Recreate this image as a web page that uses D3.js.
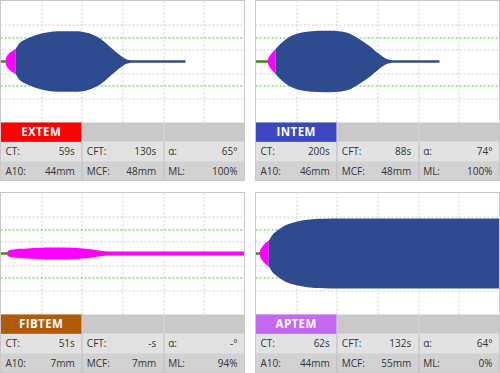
<!DOCTYPE html>
<html lang="en">
<head>
    <meta charset="UTF-8">
    <title>ROTEM Panels</title>
    <script src="https://d3js.org/d3.v7.min.js"></script>
    <style>
        body { margin: 0; background: #fff; }
        svg text { font-family: "Open Sans", sans-serif; }
    </style>
</head>
<body>
    <div id="chart"></div>
    <script>
        // Test names and result table values
        const tests = ["EXTEM", "INTEM", "FIBTEM", "APTEM"];
        const ctValues = ["59s", "200s", "51s", "62s"];
        const cftValues = ["130s", "88s", "-s", "132s"];
        const alphaValues = ["65°", "74°", "-°", "64°"];
        const a10Values = ["44mm", "46mm", "7mm", "44mm"];
        const mcfValues = ["48mm", "48mm", "7mm", "55mm"];
        const mlValues = ["100%", "100%", "94%", "0%"];

        // Curves: [time in min, amplitude in mm]
        const extemCurve = [[1.23, 0], [1.35, 5.7], [1.65, 9.5], [2.04, 12.8], [2.46, 15.1], [3.07, 18], [3.69, 20.8],
            [4.92, 31.6], [7.38, 39.8], [9.84, 45.4], [13.03, 49.2], [16.47, 49.7], [19.67, 49.2], [22.13, 45.4],
            [24.59, 37.2], [27.05, 23.4], [29.51, 9.8], [30.8, 4.2], [31.8, 2.3], [33, 2], [36, 2], [40, 2], [45.49, 2]];
        const intemCurve = [[2.95, 0], [3.1, 3.5], [3.27, 6.6], [4.11, 14.8], [4.92, 20.5], [6.15, 29], [8.19, 39.8],
            [10.65, 46.4], [13.94, 49.7], [17.21, 50.3], [20.48, 49.7], [22.94, 46.4], [25.4, 37.2], [27.86, 26.2],
            [30.32, 12.6], [32, 5], [33.3, 2.4], [34.6, 2], [37.5, 2], [41, 2], [45.24, 2]];
        const fibtemCurve = [[1.6, 0], [1.8, 4.1], [3.27, 6.6], [6.57, 8.2], [9.84, 9.3], [12.29, 9.8], [16.4, 9.8],
            [20.48, 8.2], [23.78, 5.4], [26.24, 3.4], [28.5, 3.2], [32, 3.2], [40, 3.2], [50, 3.2], [60, 3.2]];
        const aptemCurve = [[0.98, 0], [1.23, 6.6], [1.65, 11], [2.46, 17.5], [3.27, 21.3], [4.1, 30], [4.92, 35.4],
            [7.38, 46.4], [9.84, 51.8], [13.94, 56.2], [20.48, 57.4], [31.97, 57.4], [45, 57.4], [60, 57.4]];
        const curves = [extemCurve, intemCurve, fibtemCurve, aptemCurve];
        // end of the green baseline (min) and end of the magenta phase (min)
        const ctTimes = [1.23, 2.95, 1.7, 0.98];
        const cftTimes = [3.69, 4.92, 60, 3.27];

        // Grid levels
        const timeTicks = [10, 20, 30, 40, 50];
        const ampGrid = [-30, -10, 10, 30];
        const ampRef = [-20, 20];

        const headerColors = ["#ff0000", "#3b48c4", "#b15a08", "#c467f5"];

        const width = 500, height = 373;
        const panelW = 244, panelH = 180, plotH = 122;
        const rowH = (panelH - plotH) / 3;
        const colW = panelW / 3;

        const svg = d3.select("#chart").append("svg")
            .attr("width", width)
            .attr("height", height);

        const x = d3.scaleLinear().domain([0, 60]).range([0, panelW]);
        const y = d3.scaleLinear().domain([-50, 50]).range([plotH, 0]);

        const area = d3.area()
            .x(d => x(d[0]))
            .y0(d => y(-d[1] / 2))
            .y1(d => y(d[1] / 2))
            .curve(d3.curveCatmullRom.alpha(0.5));

        const defs = svg.append("defs");

        tests.forEach((name, i) => {
            const px = (i % 2) * 255 + 0.5;
            const py = Math.floor(i / 2) * 192 + 0.5;
            const g = svg.append("g").attr("transform", `translate(${px},${py})`);

            // clip paths for the two phases of the curve
            defs.append("clipPath").attr("id", "cfa" + i)
                .append("rect").attr("x", 0).attr("y", 0)
                .attr("width", x(cftTimes[i])).attr("height", plotH);
            defs.append("clipPath").attr("id", "cfb" + i)
                .append("rect").attr("x", x(cftTimes[i])).attr("y", 0)
                .attr("width", Math.max(0, panelW - x(cftTimes[i]))).attr("height", plotH);

            // plot background
            g.append("rect")
                .attr("width", panelW).attr("height", plotH)
                .attr("fill", "#fff");

            // gray grid
            g.selectAll(".vgrid").data(timeTicks).join("line")
                .attr("x1", d => Math.round(x(d)) + 0.5).attr("x2", d => Math.round(x(d)) + 0.5)
                .attr("y1", 0).attr("y2", plotH)
                .attr("stroke", "#cfcfcf").attr("stroke-dasharray", "2,2");
            g.selectAll(".hgrid").data(ampGrid).join("line")
                .attr("x1", 0).attr("x2", panelW)
                .attr("y1", d => Math.round(y(d)) + 0.5).attr("y2", d => Math.round(y(d)) + 0.5)
                .attr("stroke", "#cfcfcf").attr("stroke-dasharray", "2,2");
            g.selectAll(".ref").data(ampRef).join("line")
                .attr("x1", 0).attr("x2", panelW)
                .attr("y1", d => Math.round(y(d)) + 0.5).attr("y2", d => Math.round(y(d)) + 0.5)
                .attr("stroke", "#33cc33").attr("stroke-width", 1.2).attr("stroke-dasharray", "2,2");

            // green baseline before clotting
            g.append("line")
                .attr("x1", x(0)).attr("x2", x(ctTimes[i]) + 1)
                .attr("y1", y(0)).attr("y2", y(0))
                .attr("stroke", "#3f8a10").attr("stroke-width", 2.5);

            // curve: magenta phase then blue phase
            g.append("path").datum(curves[i])
                .attr("clip-path", `url(#cfa${i})`)
                .attr("fill", "#ff00ff")
                .attr("d", area);
            g.append("path").datum(curves[i])
                .attr("clip-path", `url(#cfb${i})`)
                .attr("fill", "#2f4b8f")
                .attr("d", area);

            // results table
            const t = g.append("g").attr("transform", `translate(0,${plotH})`);
            t.append("rect").attr("width", panelW).attr("height", rowH).attr("fill", "#c9c9c9");
            t.append("rect").attr("y", rowH).attr("width", panelW).attr("height", rowH).attr("fill", "#e2e2e2");
            t.append("rect").attr("y", 2 * rowH).attr("width", panelW).attr("height", rowH).attr("fill", "#d2d2d2");
            t.append("rect").attr("width", colW).attr("height", rowH).attr("fill", headerColors[i]);
            t.append("text")
                .attr("x", colW / 2).attr("y", rowH / 2 + 4)
                .attr("text-anchor", "middle")
                .attr("fill", "#fff").attr("font-weight", 700)
                .attr("font-size", "11.5px").attr("letter-spacing", "0.4px")
                .text(name);
            [1, 2].forEach(c => {
                t.append("line")
                    .attr("x1", Math.round(c * colW) + 0.5).attr("x2", Math.round(c * colW) + 0.5)
                    .attr("y1", 0).attr("y2", rowH)
                    .attr("stroke", "#d6d6d6");
                t.append("line")
                    .attr("x1", Math.round(c * colW) + 0.5).attr("x2", Math.round(c * colW) + 0.5)
                    .attr("y1", rowH).attr("y2", 3 * rowH)
                    .attr("stroke", "#bdbdbd");
            });

            const rows = [
                [["CT:", ctValues[i]], ["CFT:", cftValues[i]], ["α:", alphaValues[i]]],
                [["A10:", a10Values[i]], ["MCF:", mcfValues[i]], ["ML:", mlValues[i]]]
            ];
            rows.forEach((row, r) => {
                row.forEach((cell, c) => {
                    const ty = (r + 1) * rowH + rowH / 2 + 3.7;
                    t.append("text")
                        .attr("x", c * colW + 5).attr("y", ty)
                        .attr("font-size", "10px").attr("fill", "#333")
                        .text(cell[0]);
                    t.append("text")
                        .attr("x", (c + 1) * colW - 7).attr("y", ty)
                        .attr("text-anchor", "end")
                        .attr("font-size", "10px").attr("fill", "#333")
                        .text(cell[1]);
                });
            });

            // panel frame
            g.append("rect")
                .attr("width", panelW).attr("height", panelH)
                .attr("fill", "none").attr("stroke", "#c8c8c8");
        });
    </script>
</body>
</html>
